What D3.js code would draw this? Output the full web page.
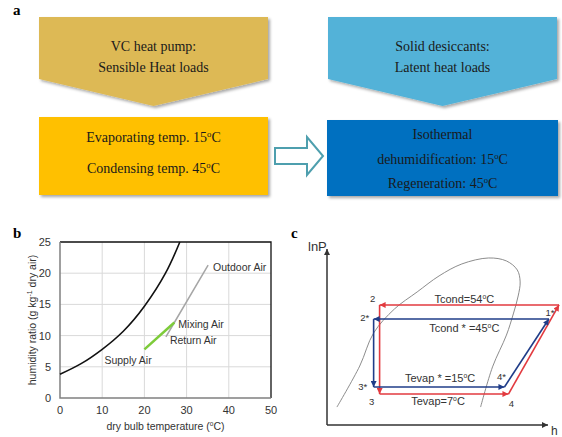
<!DOCTYPE html>
<html>
<head>
<meta charset="utf-8">
<script src="https://cdn.jsdelivr.net/npm/d3@7"></script>
<style>
  body { margin: 0; background: #fff; }
  svg { display: block; }
</style>
</head>
<body>
<div id="fig"></div>
<script>
// ---- panel a: text of the boxes
const stageTitles = [["VC heat pump:", "Sensible Heat loads"], ["Solid desiccants:", "Latent heat loads"]];
const stageDetails = [["Evaporating temp. 15°C", "Condensing temp. 45°C"],
                      ["Isothermal", "dehumidification: 15°C", "Regeneration: 45°C"]];

// ---- panel b: psychrometric chart
const xTicksB = [0, 10, 20, 30, 40, 50];
const yTicksB = [0, 5, 10, 15, 20, 25];
const satTemp = [0, 5, 10, 15, 20, 25, 28.4];
const satW    = [3.8, 5.5, 7.8, 10.7, 14.7, 20.0, 25];
const mixTemp = [25.1, 27.1, 35.1];   // return -> mixing -> outdoor
const mixW    = [9.8, 12.1, 21.3];
const supTemp = [20.0, 27.1];         // supply -> mixing
const supW    = [7.8, 12.1];
const airNames = ["Supply Air", "Mixing Air", "Return Air", "Outdoor Air"];
const airTemp  = [20.0, 27.1, 25.1, 35.1];
const airW     = [7.8, 12.1, 9.8, 21.3];

// ---- panel c: lnP-h diagram (relative units 0..100)
const domeH   = [4.5, 14.8, 21.1, 30.5, 40.8, 50.7, 61.0, 73.1, 81.2, 86.1, 87.4, 86.5, 84.3, 81.2, 74.9, 69.5];
const domeLnP = [10.2, 33.5, 52.3, 65.9, 75.6, 84.7, 91.5, 94.9, 93.2, 88.1, 81.3, 73.3, 63.1, 51.1, 33.0, 10.2];
const redH    = [105, 23.8, 23.8, 82.1];
const redLnP  = [68.2, 68.2, 17.6, 17.6];
const blueH   = [100.4, 21.1, 21.1, 80.3];
const blueLnP = [60.2, 60.2, 21.6, 21.6];
const redStates  = ["", "2", "3", "4"];   // state 1 lies past the right edge
const blueStates = ["1*", "2*", "3*", "4*"];
const redLineLabels  = ["Tcond=54°C", null, "Tevap=7°C", null];
const blueLineLabels = ["Tcond * =45°C", null, "Tevap * =15°C", null];

const svg = d3.select("#fig").append("svg")
    .attr("width", 562)
    .attr("height", 437);

const defs = svg.append("defs");
defs.append("filter").attr("id", "shadow")
    .attr("x", "-5%").attr("y", "-5%").attr("width", "115%").attr("height", "125%")
    .append("feDropShadow")
    .attr("dx", 2).attr("dy", 2).attr("stdDeviation", 1.5)
    .attr("flood-color", "#000").attr("flood-opacity", 0.35);

function arrowMarker(id, color) {
    defs.append("marker")
        .attr("id", id)
        .attr("viewBox", "0 0 10 10")
        .attr("refX", 10).attr("refY", 5)
        .attr("markerUnits", "userSpaceOnUse")
        .attr("markerWidth", 7).attr("markerHeight", 6)
        .attr("orient", "auto")
        .append("path")
        .attr("d", "M0,0 L10,5 L0,10 z")
        .attr("fill", color);
}
arrowMarker("arrRed", "#E23A3F");
arrowMarker("arrBlue", "#1F3C88");
arrowMarker("arrAxis", "#333");

// text with a superscript "o" in place of the degree sign
function degText(sel, str, size) {
    const parts = str.split("°");
    sel.append("tspan").text(parts[0]);
    if (parts.length > 1) {
        sel.append("tspan").text("o")
            .attr("font-size", size * 0.62)
            .attr("dy", -size * 0.38);
        sel.append("tspan").text(parts[1]).attr("dy", size * 0.38);
    }
}

function panelLetter(txt, x, y) {
    svg.append("text")
        .attr("x", x).attr("y", y)
        .attr("font-family", "Liberation Serif, Times New Roman, serif")
        .attr("font-weight", "bold")
        .attr("font-size", 15)
        .text(txt);
}

// ================= panel a =================
panelLetter("a", 13, 15);

const serif = "Liberation Serif, Times New Roman, serif";
const chevrons = [
    { x0: 39, x1: 268, fill: "#DDB955" },
    { x0: 328, x1: 557, fill: "#52B2D8" }
];
const chevTop = 17, chevShoulder = 79, chevTip = 106;
const titleBase = [51, 72];

chevrons.forEach((c, i) => {
    const mid = (c.x0 + c.x1) / 2;
    svg.append("polygon")
        .attr("points", [[c.x0, chevTop], [c.x1, chevTop], [c.x1, chevShoulder], [mid, chevTip], [c.x0, chevShoulder]].join(" "))
        .attr("fill", c.fill)
        .attr("filter", "url(#shadow)");
    stageTitles[i].forEach((t, j) => {
        svg.append("text")
            .attr("x", mid).attr("y", titleBase[j])
            .attr("text-anchor", "middle")
            .attr("font-family", serif).attr("font-size", 14)
            .attr("fill", "#1a1a1a")
            .text(t);
    });
});

const boxes = [
    { x0: 39, x1: 268, y0: 117, y1: 195, fill: "#FFC000", base: [142, 173] },
    { x0: 327, x1: 558, y0: 120, y1: 196, fill: "#0070C0", base: [139, 164, 188] }
];
boxes.forEach((b, i) => {
    svg.append("rect")
        .attr("x", b.x0).attr("y", b.y0)
        .attr("width", b.x1 - b.x0).attr("height", b.y1 - b.y0)
        .attr("fill", b.fill)
        .attr("filter", "url(#shadow)");
    stageDetails[i].forEach((t, j) => {
        const tx = svg.append("text")
            .attr("x", (b.x0 + b.x1) / 2).attr("y", b.base[j])
            .attr("text-anchor", "middle")
            .attr("font-family", serif).attr("font-size", 14)
            .attr("fill", "#1a1a1a");
        degText(tx, t, 14);
    });
});

// hollow block arrow between boxes
svg.append("polygon")
    .attr("points", "275,148 307,148 307,137 323,156 307,175 307,164 275,164")
    .attr("fill", "#fff")
    .attr("stroke", "#4E9FAE")
    .attr("stroke-width", 2)
    .attr("stroke-linejoin", "miter");

// ================= panel b =================
panelLetter("b", 13, 238);

const sans = "Liberation Sans, Arial, sans-serif";
const xb = d3.scaleLinear().domain([0, 50]).range([60, 271]);
const yb = d3.scaleLinear().domain([0, 25]).range([398, 242]);
const gb = svg.append("g");

// grid
gb.selectAll(".vgrid").data(xTicksB.slice(1, -1)).enter().append("line")
    .attr("x1", d => xb(d)).attr("x2", d => xb(d))
    .attr("y1", yb(0)).attr("y2", yb(25))
    .attr("stroke", "#D9D9D9").attr("stroke-width", 1);
gb.selectAll(".hgrid").data(yTicksB.slice(1, -1)).enter().append("line")
    .attr("x1", xb(0)).attr("x2", xb(50))
    .attr("y1", d => yb(d)).attr("y2", d => yb(d))
    .attr("stroke", "#D9D9D9").attr("stroke-width", 1);

// frame
gb.append("path")
    .attr("d", `M${xb(0)},${yb(25)} H${xb(50)} V${yb(0)}`)
    .attr("fill", "none").attr("stroke", "#111").attr("stroke-width", 1.3);
gb.append("path")
    .attr("d", `M${xb(0)},${yb(25)} V${yb(0)} H${xb(50)}`)
    .attr("fill", "none").attr("stroke", "#808080").attr("stroke-width", 1.5);

// tick labels
gb.selectAll(".xt").data(xTicksB).enter().append("text")
    .attr("x", d => xb(d)).attr("y", 414)
    .attr("text-anchor", "middle")
    .attr("font-family", sans).attr("font-size", 11).attr("fill", "#333")
    .text(d => d);
gb.selectAll(".yt").data(yTicksB).enter().append("text")
    .attr("x", 51).attr("y", d => yb(d) + 4)
    .attr("text-anchor", "end")
    .attr("font-family", sans).attr("font-size", 11).attr("fill", "#333")
    .text(d => d);

// axis titles
const xTitle = gb.append("text")
    .attr("x", (xb(0) + xb(50)) / 2).attr("y", 430)
    .attr("text-anchor", "middle")
    .attr("font-family", sans).attr("font-size", 10.5).attr("fill", "#333");
degText(xTitle, "dry bulb temperature (°C)", 10.5);

const yTitle = gb.append("text")
    .attr("transform", `translate(36,${(yb(0) + yb(25)) / 2}) rotate(-90)`)
    .attr("text-anchor", "middle")
    .attr("font-family", sans).attr("font-size", 10.5).attr("fill", "#333");
yTitle.append("tspan").text("humidity ratio (g kg");
yTitle.append("tspan").text("-1").attr("font-size", 7).attr("dy", -4);
yTitle.append("tspan").text(" dry air)").attr("dy", 4);

// saturation curve
const satLine = d3.line()
    .x((d, i) => xb(satTemp[i]))
    .y(d => yb(d))
    .curve(d3.curveNatural);
gb.append("path")
    .attr("d", satLine(satW))
    .attr("fill", "none").attr("stroke", "#111").attr("stroke-width", 1.6);

// mixing line (gray) and supply process (green)
gb.append("path")
    .attr("d", d3.line().x((d, i) => xb(mixTemp[i])).y(d => yb(d))(mixW))
    .attr("fill", "none").attr("stroke", "#A6A6A6").attr("stroke-width", 1.5);
gb.append("path")
    .attr("d", d3.line().x((d, i) => xb(supTemp[i])).y(d => yb(d))(supW))
    .attr("fill", "none").attr("stroke", "#7DCB3A").attr("stroke-width", 2.5);

const airDx = [-40, 4, 4, 5];
const airDy = [15, 6, 7, 6];
gb.selectAll(".air").data(airNames).enter().append("text")
    .attr("x", (d, i) => xb(airTemp[i]) + airDx[i])
    .attr("y", (d, i) => yb(airW[i]) + airDy[i])
    .attr("font-family", sans).attr("font-size", 10.5).attr("fill", "#333")
    .text(d => d);

// ================= panel c =================
panelLetter("c", 291, 238);

const xc = d3.scaleLinear().domain([0, 100]).range([327, 548]);
const yc = d3.scaleLinear().domain([0, 100]).range([425, 249]);
const gc = svg.append("g");

// axes with arrows
gc.append("line")
    .attr("x1", xc(0)).attr("y1", yc(0)).attr("x2", xc(0)).attr("y2", yc(100))
    .attr("stroke", "#333").attr("stroke-width", 1.5).attr("marker-end", "url(#arrAxis)");
gc.append("line")
    .attr("x1", xc(0)).attr("y1", yc(0)).attr("x2", xc(100)).attr("y2", yc(0))
    .attr("stroke", "#333").attr("stroke-width", 1.5).attr("marker-end", "url(#arrAxis)");
gc.append("text").attr("x", 308).attr("y", 251)
    .attr("font-family", sans).attr("font-size", 13).attr("fill", "#333").text("lnP");
gc.append("text").attr("x", 551).attr("y", 435)
    .attr("font-family", sans).attr("font-size", 12).attr("fill", "#333").text("h");

// saturation dome
gc.append("path")
    .attr("d", d3.line().x((d, i) => xc(domeH[i])).y(d => yc(d)).curve(d3.curveCatmullRom)(domeLnP))
    .attr("fill", "none").attr("stroke", "#7F7F7F").attr("stroke-width", 0.9);

function drawCycle(hs, ps, color, marker, states, stateDx, stateDy, lineLabels, labelDx, labelDy) {
    hs.forEach((h, i) => {
        const j = (i + 1) % hs.length;
        gc.append("line")
            .attr("x1", xc(h)).attr("y1", yc(ps[i]))
            .attr("x2", xc(hs[j])).attr("y2", yc(ps[j]))
            .attr("stroke", color).attr("stroke-width", 1.6)
            .attr("marker-end", `url(#${marker})`);
        if (lineLabels[i]) {
            const t = gc.append("text")
                .attr("x", (xc(h) + xc(hs[j])) / 2 + labelDx[i])
                .attr("y", yc(ps[i]) + labelDy[i])
                .attr("text-anchor", "middle")
                .attr("font-family", sans).attr("font-size", 11).attr("fill", "#333");
            degText(t, lineLabels[i], 11);
        }
    });
    states.forEach((s, i) => {
        if (!s) return;
        gc.append("text")
            .attr("x", xc(hs[i]) + stateDx[i])
            .attr("y", yc(ps[i]) + stateDy[i] + 3.5)
            .attr("text-anchor", "middle")
            .attr("font-family", sans).attr("font-size", 9.5).attr("fill", "#333")
            .text(s);
    });
}

drawCycle(redH, redLnP, "#E23A3F", "arrRed", redStates,
    [0, -7, -8, 3], [0, -6, 7, 9],
    redLineLabels, [-5, 0, -6, 0], [-2, 0, 11, 0]);
drawCycle(blueH, blueLnP, "#1F3C88", "arrBlue", blueStates,
    [1, -9, -11, -3], [-7, -2, 0, -10],
    blueLineLabels, [3, 0, 1, 0], [13, 0, -5, 0]);
</script>
</body>
</html>
